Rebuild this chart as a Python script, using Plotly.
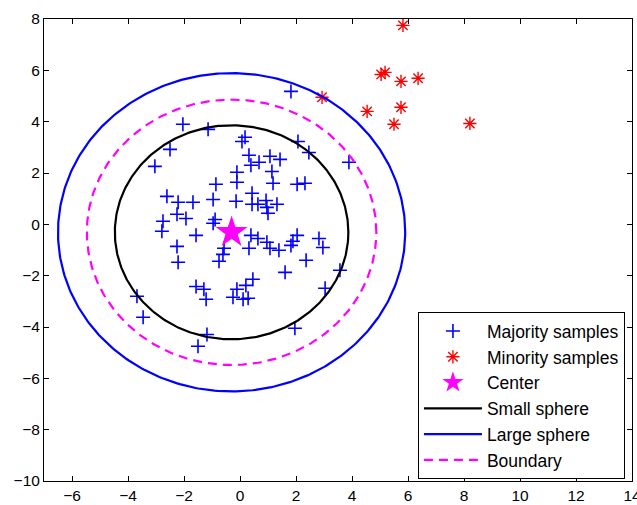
import numpy as np
import plotly.graph_objects as go

# Majority samples (blue +)
maj_x = [-2.04, -1.14, -2.50, -3.04, 0.07, 0.18, 0.32, 0.39, 0.68, 1.07, 1.43, 1.14, -0.11, -0.11,
         1.18, 2.04, 2.32, 1.82, 2.07, 2.46, 3.89, -0.86, -2.61, -2.21, -1.68, -0.96, -0.14, 0.43,
         0.43, 0.64, 0.93, 0.96, 1.00, 1.32, -2.25, -1.93, -2.75, -2.79, -0.89, -0.96, -1.57, -2.25,
         -2.21, -0.57, -0.61, -0.75, 0.39, 0.64, 0.32, 0.96, 1.07, 1.39, 1.82, 1.89, 2.04, 2.82,
         2.96, 2.36, 1.61, 3.57, 3.04, 0.46, 0.21, -0.11, -0.25, 0.11, 0.29, -1.57, -1.29, -1.21,
         -3.68, -3.46, -1.18, -1.50, 1.96]
maj_y = [3.90, 3.70, 2.92, 2.26, 3.23, 3.39, 2.69, 2.30, 2.42, 2.65, 2.53, 2.06, 2.03, 1.64,
         1.60, 1.56, 1.60, 5.18, 3.23, 2.80, 2.42, 1.56, 1.09, 0.86, 0.86, 0.97, 0.90, 1.21,
         0.78, 0.78, 0.93, 0.66, 0.43, 0.78, 0.39, 0.23, 0.12, -0.27, 0.19, 0.04, -0.43, -0.86,
         -1.48, -0.93, -1.17, -1.44, -0.43, -0.55, -0.93, -0.70, -0.93, -1.01, -0.82, -0.66, -0.43, -0.55,
         -0.90, -1.40, -1.87, -1.79, -2.49, -2.14, -2.38, -2.53, -2.84, -2.92, -2.88, -2.42, -2.53, -2.92,
         -2.80, -3.62, -4.29, -4.75, -4.05]

# Minority samples (red *)
min_x = [5.82, 5.04, 5.18, 5.75, 6.36, 2.93, 4.54, 5.75, 5.50, 8.21]
min_y = [7.75, 5.84, 5.92, 5.57, 5.69, 4.95, 4.40, 4.56, 3.90, 3.93]

# Center and sphere radii
center_x = [-0.30]
center_y = [-0.31]
r_small = 4.17
r_boundary = 5.17
r_large = 6.20

x_ticks = [-6, -4, -2, 0, 2, 4, 6, 8, 10, 12, 14]
y_ticks = [-10, -8, -6, -4, -2, 0, 2, 4, 6, 8]

theta = np.linspace(0, 2 * np.pi, 400)


def circle(r):
    return center_x[0] + r * np.cos(theta), center_y[0] + r * np.sin(theta)


fig = go.Figure()

fig.add_trace(go.Scatter(
    x=maj_x, y=maj_y, mode="markers", name="Majority samples", legendrank=1,
    marker=dict(symbol="cross-thin", size=10, line=dict(color="#0000ff", width=1.6))))
fig.add_trace(go.Scatter(
    x=min_x, y=min_y, mode="markers", name="Minority samples", legendrank=2,
    marker=dict(symbol="asterisk", size=11, line=dict(color="#ff0000", width=1.4))))

sx, sy = circle(r_small)
lx, ly = circle(r_large)
bx, by = circle(r_boundary)
fig.add_trace(go.Scatter(x=sx, y=sy, mode="lines", name="Small sphere", legendrank=4,
                         line=dict(color="black", width=2.2)))
fig.add_trace(go.Scatter(x=lx, y=ly, mode="lines", name="Large sphere", legendrank=5,
                         line=dict(color="#0000ff", width=2.2)))
fig.add_trace(go.Scatter(x=bx, y=by, mode="lines", name="Boundary", legendrank=6,
                         line=dict(color="#ff00ff", width=2.2, dash="9px,6px")))
fig.add_trace(go.Scatter(
    x=center_x, y=center_y, mode="markers", name="Center", legendrank=3,
    marker=dict(symbol="star", size=24, color="#ff00ff", line=dict(width=0))))

fig.update_layout(
    width=637, height=505,
    margin=dict(l=44, r=5, t=19, b=24),
    paper_bgcolor="white", plot_bgcolor="white",
    font=dict(family="Liberation Sans, Arial, sans-serif", size=15.5, color="black"),
    showlegend=True,
    legend=dict(
        x=0.988, y=0.004, xanchor="right", yanchor="bottom",
        bgcolor="white", bordercolor="black", borderwidth=1,
        font=dict(size=17.5), tracegroupgap=0, itemwidth=58,
    ),
)

axis_common = dict(
    showline=True, linecolor="black", linewidth=1, mirror="ticks", automargin=False,
    ticks="inside", ticklen=5, tickcolor="black", showgrid=False, zeroline=False,
)
fig.update_xaxes(range=[-7, 14], tickvals=x_ticks, ticklabeloverflow="allow", **axis_common)
fig.update_yaxes(range=[-10, 8], tickvals=y_ticks, ticklabeloverflow="allow", **axis_common)

fig.write_html("out.html")
